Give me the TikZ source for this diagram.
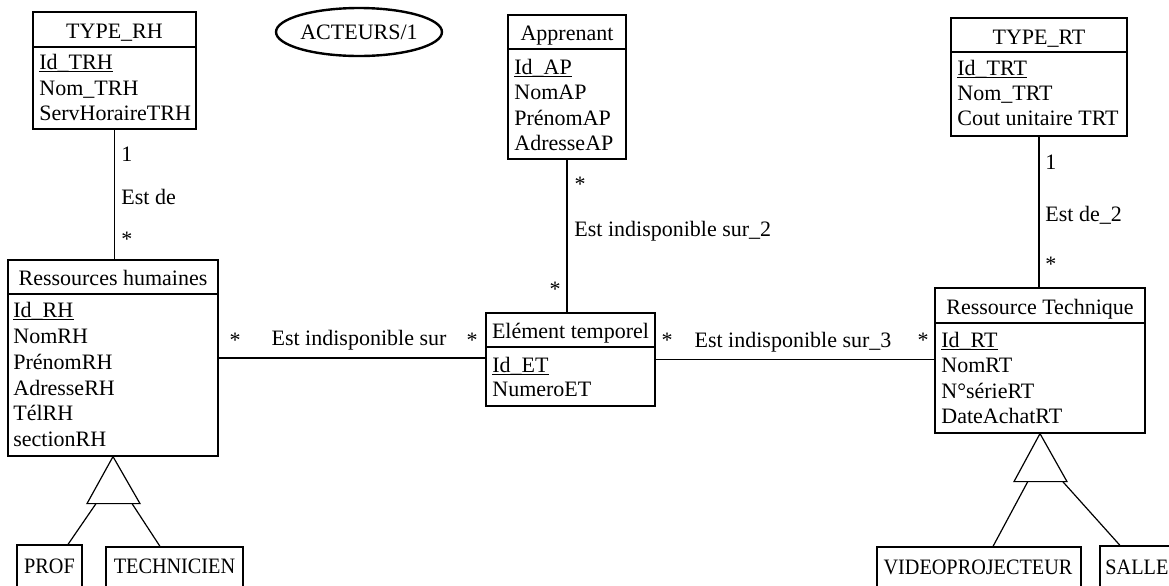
\documentclass[tikz,border=0pt]{standalone}
\usepackage{fontspec}
\setmainfont{Liberation Serif}
\usetikzlibrary{fit,calc,shapes.geometric}
\tikzset{
  every node/.style={font=\fontsize{11}{13}\selectfont},
  cls/.style={draw, line width=0.6pt, inner sep=0pt},
  txt/.style={inner sep=0pt, text height=7.3pt, text depth=0pt, anchor=west},
  ctxt/.style={inner sep=0pt, text height=7.3pt, text depth=0pt},
  conn/.style={line width=0.6pt},
  uline/.style={line width=0.5pt},
}
\newcommand\narrowcaps[1]{\scalebox{0.92}[1]{#1}}
\begin{document}
\begin{tikzpicture}[x=0.5pt,y=-0.5pt]
\clip (0,0) rectangle (1169,585);
\fill[white] (0,0) rectangle (1169,585);

% ---------- TYPE_RH ----------
\node[cls, fit={(33,12) (196,129)}] (trh) {};
\draw[conn] (trh.west |- 0,47) -- (trh.east |- 0,47);
\node[ctxt] (trhH) at (114.5,31) {TYPE\_RH};
\node[txt] (trh1) at (39,62) {Id\_TRH};
\node[txt] (trh2) at (39,88) {Nom\_TRH};
\node[txt] (trh3) at (39,113) {ServHoraireTRH};
\draw[uline] ([yshift=-1pt]trh1.south west) -- ([yshift=-1pt]trh1.south east);

% ---------- ACTEURS/1 ----------
\node[ellipse, draw, line width=1.2pt, minimum width=68pt, minimum height=24pt, inner sep=0pt] (act) at (359,32) {ACTEURS/1};

% ---------- Apprenant ----------
\node[cls, fit={(508,15) (626,159)}] (ap) {};
\draw[conn] (ap.west |- 0,49) -- (ap.east |- 0,49);
\node[ctxt] (apH) at (567,33) {Apprenant};
\node[txt] (ap1) at (514,67) {Id\_AP};
\node[txt] (ap2) at (514,92) {NomAP};
\node[txt] (ap3) at (514,118) {PrénomAP};
\node[txt] (ap4) at (514,143) {AdresseAP};
\draw[uline] ([yshift=-1pt]ap1.south west) -- ([yshift=-1pt]ap1.south east);

% ---------- TYPE_RT ----------
\node[cls, fit={(951,18) (1127,136)}] (trt) {};
\draw[conn] (trt.west |- 0,52) -- (trt.east |- 0,52);
\node[ctxt] (trtH) at (1039,37) {TYPE\_RT};
\node[txt] (trt1) at (957,68) {Id\_TRT};
\node[txt] (trt2) at (957,93) {Nom\_TRT};
\node[txt] (trt3) at (957,118) {Cout unitaire TRT};
\draw[uline] ([yshift=-1pt]trt1.south west) -- ([yshift=-1pt]trt1.south east);

% ---------- Ressources humaines ----------
\node[cls, fit={(8,260) (218,456)}] (rh) {};
\draw[conn] (rh.west |- 0,294) -- (rh.east |- 0,294);
\node[ctxt] (rhH) at (113,278) {Ressources humaines};
\node[txt] (rh1) at (13,310) {Id\_RH};
\node[txt] (rh2) at (13,336) {NomRH};
\node[txt] (rh3) at (13,362) {PrénomRH};
\node[txt] (rh4) at (13,388) {AdresseRH};
\node[txt] (rh5) at (13,413) {TélRH};
\node[txt] (rh6) at (13,439) {sectionRH};
\draw[uline] ([yshift=-1pt]rh1.south west) -- ([yshift=-1pt]rh1.south east);

% ---------- Element temporel ----------
\node[cls, fit={(486,313) (655,406)}] (et) {};
\draw[conn] (et.west |- 0,347) -- (et.east |- 0,347);
\node[ctxt] (etH) at (570.5,331) {Elément temporel};
\node[txt] (et1) at (492,365) {Id\_ET};
\node[txt] (et2) at (492,389) {NumeroET};
\draw[uline] ([yshift=-1pt]et1.south west) -- ([yshift=-1pt]et1.south east);

% ---------- Ressource Technique ----------
\node[cls, fit={(935,288) (1145,433)}] (rt) {};
\draw[conn] (rt.west |- 0,323) -- (rt.east |- 0,323);
\node[ctxt] (rtH) at (1040,307) {Ressource Technique};
\node[txt] (rt1) at (941,340) {Id\_RT};
\node[txt] (rt2) at (941,365) {NomRT};
\node[txt] (rt3) at (941,391) {N°sérieRT};
\node[txt] (rt4) at (941,416) {DateAchatRT};
\draw[uline] ([yshift=-1pt]rt1.south west) -- ([yshift=-1pt]rt1.south east);

% ---------- specialisations ----------
\node[cls, fit={(17,545) (82,590)}] (prof) {};
\node[ctxt] (profT) at (49.5,566) {\narrowcaps{PROF}};
\node[cls, fit={(106,547) (243,590)}] (tech) {};
\node[ctxt] (techT) at (174.5,566) {\narrowcaps{TECHNICIEN}};
\node[cls, fit={(877,547) (1081,590)}] (video) {};
\node[ctxt] (videoT) at (978,567) {\narrowcaps{VIDEOPROJECTEUR}};
\node[cls, fit={(1100,546) (1220,590)}] (salle) {};
\node[txt] (salleT) at (1105,567) {\narrowcaps{SALLE}};

% ---------- associations ----------
\draw[conn] (trh.south) -- (trh.south |- rh.north);
\node[txt] (m1) at (121,154) {1};
\node[txt] (a1) at (121,197) {Est de};
\node[txt] (m2) at (121,239) {*};

\draw[conn] (ap.south) -- (ap.south |- et.north);
\node[ctxt] (m3) at (580,184) {*};
\node[txt] (a2) at (574,229) {Est indisponible sur\_2};
\node[ctxt] (m4) at (555,289) {*};

\draw[conn] (trt.south) -- (trt.south |- rt.north);
\node[txt] (m5) at (1045,162) {1};
\node[txt] (a3) at (1045,214) {Est de\_2};
\node[txt] (m6) at (1045,264) {*};

\draw[conn] (rh.east) -- (rh.east -| et.west);
\node[ctxt] (m7) at (235,340) {*};
\node[ctxt] (a4) at (359,338) {Est indisponible sur};
\node[ctxt] (m8) at (472,340) {*};

\draw[conn] (et.east) -- (et.east -| rt.west);
\node[ctxt] (m9) at (667,340) {*};
\node[ctxt] (a5) at (793,340) {Est indisponible sur\_3};
\node[ctxt] (m10) at (923,340) {*};

% ---------- generalisation triangles ----------
\coordinate (rhL) at ($(rh.south)+(-26,47)$);
\coordinate (rhR) at ($(rh.south)+(27,47)$);
\draw[conn] (rh.south) -- (rhL) -- (rhR) -- cycle;
\draw[conn] ($(rhL)!0.17!(rhR)$) -- ($(prof.north)+(18.5,0)$);
\draw[conn] ($(rhL)!0.85!(rhR)$) -- ($(tech.north)+(-14.5,0)$);

\coordinate (rtL) at ($(rt.south)+(-26,48)$);
\coordinate (rtR) at ($(rt.south)+(27,48)$);
\draw[conn] (rt.south) -- (rtL) -- (rtR) -- cycle;
\draw[conn] ($(rtL)!0.26!(rtR)$) -- ($(video.north)+(14,0)$);
\draw[conn] ($(rtL)!0.92!(rtR)$) -- (salle.north west -| 1120,0);
\end{tikzpicture}
\end{document}
